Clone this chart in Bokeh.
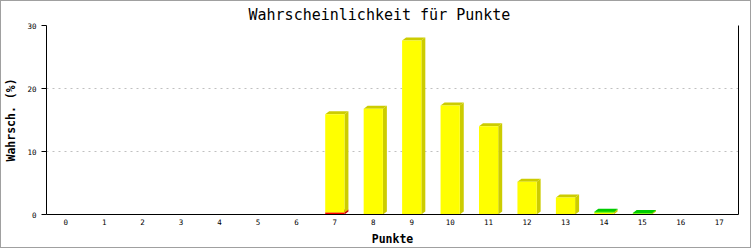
from bokeh.plotting import figure
from bokeh.models import Range1d, FixedTicker, LinearAxis, ColumnDataSource
from bokeh.embed import file_html
from bokeh.resources import INLINE

# ---------------- data ----------------
title_text = "Wahrscheinlichkeit für Punkte"
x_label = "Punkte"
y_label = "Wahrsch. (%)"
punkte = list(range(18))
rot = [0, 0, 0, 0, 0, 0, 0, 0.3, 0, 0, 0, 0, 0, 0, 0, 0, 0, 0]
gelb = [0, 0, 0, 0, 0, 0, 0, 15.6, 16.8, 27.6, 17.3, 14.0, 5.2, 2.7, 0.3, 0.15, 0, 0]
gruen = [0, 0, 0, 0, 0, 0, 0, 0, 0, 0, 0, 0, 0, 0, 0.15, 0.08, 0, 0]
y_ticks = [0, 10, 20, 30]

series = [
    (rot, "#FF0000", "#CC0000"),
    (gelb, "#FFFF00", "#CCCC00"),
    (gruen, "#00FF00", "#00CC00"),
]

# ---------------- layout ----------------
W, H = 751, 248
FL, FT, FW, FH = 42, 24, 695, 189
x_start, x_end = -0.5, 17.5
y_start, y_end = 0, 30
BAR = 0.5
DX_PX, DY_PX = 4, 3
dx = DX_PX * (x_end - x_start) / FW
dy = DY_PX * (y_end - y_start) / FH

xs, ys, cs = [], [], []
for i, x in enumerate(punkte):
    base = 0.0
    for vals, front, shade in series:
        v = vals[i]
        if v <= 0:
            continue
        top = base + v
        l, r = x - BAR / 2, x + BAR / 2
        xs.append([r, r + dx, r + dx, r]); ys.append([base, base + dy, top + dy, top]); cs.append(shade)
        xs.append([l, l + dx, r + dx, r]); ys.append([top, top + dy, top + dy, top]); cs.append(shade)
        xs.append([l, r, r, l]); ys.append([base, base, top, top]); cs.append(front)
        base = top

src = ColumnDataSource(dict(xs=xs, ys=ys, c=cs))

p = figure(
    width=W, height=H,
    x_range=Range1d(x_start, x_end), y_range=Range1d(y_start, y_end),
    output_backend="svg", toolbar_location=None,
    min_border_left=FL, min_border_top=FT,
    min_border_right=W - FL - FW, min_border_bottom=H - FT - FH,
    title=title_text,
)
p.styles = {"border": "1px solid #A0A0A0"}
p.background_fill_color = "white"
p.border_fill_color = "white"
p.outline_line_color = None

p.patches("xs", "ys", source=src, fill_color="c", line_color=None)

# title
p.title.text_font = "DejaVu Sans Mono"
p.title.text_font_size = "15px"
p.title.text_font_style = "normal"
p.title.text_color = "black"
p.title.align = "left"
p.title.offset = 202
p.title.vertical_align = "middle"
p.title.standoff = 2

# grids
p.xgrid.visible = False
p.ygrid.grid_line_color = "#C0C0C0"
p.ygrid.grid_line_dash = "2 4"
p.ygrid.grid_line_width = 1

# y axis
ya = p.yaxis[0]
ya.ticker = FixedTicker(ticks=y_ticks)
ya.axis_label = y_label
ya.axis_label_text_font = "DejaVu Sans Mono"
ya.axis_label_text_font_size = "11.5px"
ya.axis_label_text_font_style = "bold"
ya.axis_label_text_color = "black"
ya.axis_label_standoff = 6
ya.major_label_text_font = "DejaVu Sans Mono"
ya.major_label_text_font_size = "7.5px"
ya.major_label_text_color = "black"
ya.major_label_standoff = 5
ya.major_tick_out = 5
ya.major_tick_in = 0
ya.minor_tick_out = 0
ya.minor_tick_in = 0
ya.axis_line_color = "black"
ya.major_tick_line_color = "black"

# x axis
xa = p.xaxis[0]
xa.ticker = FixedTicker(ticks=punkte)
xa.major_label_overrides = {v: str(v) for v in punkte}
xa.axis_label = x_label
xa.axis_label_text_font = "DejaVu Sans Mono"
xa.axis_label_text_font_size = "11.5px"
xa.axis_label_text_font_style = "bold"
xa.axis_label_text_color = "black"
xa.axis_label_standoff = 4
xa.major_label_text_font = "DejaVu Sans Mono"
xa.major_label_text_font_size = "7.5px"
xa.major_label_text_color = "black"
xa.major_label_standoff = 4
xa.major_tick_out = 0
xa.major_tick_in = 0
xa.minor_tick_out = 0
xa.minor_tick_in = 0
xa.axis_line_color = "black"

# right frame line
ra = LinearAxis(ticker=FixedTicker(ticks=[]), axis_line_color="black",
                major_tick_out=0, major_tick_in=0, minor_tick_out=0, minor_tick_in=0,
                major_label_text_font_size="0px")
p.add_layout(ra, "right")

open("out.html", "w").write(file_html(p, INLINE))
